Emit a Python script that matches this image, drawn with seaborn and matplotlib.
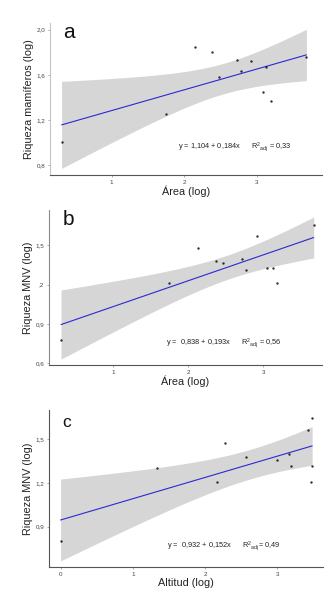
import matplotlib
matplotlib.use("Agg")
import matplotlib.pyplot as plt
import seaborn as sns
import numpy as np
import pandas as pd

# Panel a: Área (log) vs Riqueza mamíferos (log)
area_a = [0.31, 1.75, 2.145, 2.38, 2.48, 2.73, 2.78, 2.92, 3.09, 3.13, 3.19, 3.685]
riq_a = [1.00, 1.256, 1.846, 1.804, 1.582, 1.733, 1.633, 1.724, 1.443, 1.665, 1.366, 1.76]

# Panel b: Área (log) vs Riqueza MNV (log)
area_b = [0.31, 1.74, 2.13, 2.37, 2.47, 2.71, 2.77, 2.91, 3.05, 3.13, 3.18, 3.67]
riq_b = [0.776, 1.215, 1.48, 1.381, 1.368, 1.399, 1.31, 1.572, 1.33, 1.33, 1.213, 1.658]

# Panel c: Altitud (log) vs Riqueza MNV (log)
alt_c = [0.0, 1.33, 2.17, 2.28, 2.56, 2.99, 3.16, 3.19, 3.42, 3.48, 3.48, 3.46]
riq_c = [0.80, 1.30, 1.204, 1.471, 1.375, 1.358, 1.40, 1.318, 1.56, 1.645, 1.318, 1.204]

# Reported fit statistics (from the equations printed on the chart)
slopes = [0.184, 0.193, 0.152]
r2_adj = [0.33, 0.56, 0.49]

letters = ["a", "b", "c"]
xlabels = ["Área (log)", "Área (log)", "Altitud (log)"]
ylabels = ["Riqueza mamíferos (log)", "Riqueza MNV (log)", "Riqueza MNV (log)"]
eqs = ["y = 1,104 + 0,184x      R$^2$$_{adj}$ = 0,33",
       "y =  0,838 + 0,193x      R$^2$$_{adj}$ = 0,56",
       "y =  0,932 + 0,152x      R$^2$$_{adj}$= 0,49"]
yticks = [[0.8, 1.2, 1.6, 2.0], [0.6, 0.9, 1.2, 1.5], [0.9, 1.2, 1.5]]
yticklabels = [["0,8", "1,2", "1,6", "2,0"], ["0,6", "0,9", ",2", "1,5"], ["0,9", "1,2", "1,5"]]
xticks = [[1, 2, 3], [1, 2, 3], [0, 1, 2, 3]]
xticklabels = [["1", "2", "3"], ["1", "2", "3"], ["0", "1", "2", "3"]]

sns.set_style("white")
plt.rcParams['font.family'] = ['Liberation Sans', 'DejaVu Sans']
plt.rcParams['mathtext.fontset'] = 'custom'
plt.rcParams['mathtext.rm'] = 'Liberation Sans'
plt.rcParams['mathtext.it'] = 'Liberation Sans'

fig = plt.figure(figsize=(3.35, 5.95), dpi=100)
positions = [
    [50/335, 1-175/595, 272/335, 152/595],
    [49/335, 1-365/595, 273/335, 155/595],
    [49/335, 1-567/595, 274/335, 157/595],
]
xlims = [(0.15, 3.9), (0.15, 3.78), (-0.16, 3.63)]
ylims = [(0.71, 2.06), (0.587, 1.77), (0.624, 1.70)]
eq_pos = [(0.47, 0.18), (0.43, 0.14), (0.43, 0.13)]
left_spine_colors = ["#c4c4c4", "#8a8a8a", "#555555"]
letter_sizes = [15, 15, 12.5]
letter_pos = [(0.05, 1.0), (0.05, 1.0), (0.05, 0.97)]
datasets = [(area_a, riq_a), (area_b, riq_b), (alt_c, riq_c)]

T95 = 2.228  # t quantile, 10 df

for i, (xv, yv) in enumerate(datasets):
    ax = fig.add_axes(positions[i])
    df = pd.DataFrame({"x": xv, "y": yv})
    x = np.asarray(xv); y = np.asarray(yv)
    n = len(x)
    b1, b0 = np.polyfit(x, y, 1)
    sxx = np.sum((x - x.mean()) ** 2)
    # residual SE implied by the reported slope and adjusted R^2
    r2 = 1 - (1 - r2_adj[i]) * (n - 2) / (n - 1)
    ssr = slopes[i] ** 2 * sxx
    sse = ssr / r2 - ssr
    s = np.sqrt(sse / (n - 2))
    grid = np.linspace(x.min(), x.max(), 200)
    se = s * np.sqrt(1 / n + (grid - x.mean()) ** 2 / sxx)
    fit = b0 + b1 * grid
    ax.fill_between(grid, fit - T95 * se, fit + T95 * se, color="#d6d6d6",
                    linewidth=0, zorder=0)
    sns.regplot(data=df, x="x", y="y", ax=ax, ci=None, truncate=True,
                scatter_kws=dict(color="black", s=3, linewidths=0, zorder=3),
                line_kws=dict(color="#2a2ad0", lw=0.8, zorder=2))
    ax.set_xlim(*xlims[i])
    ax.set_ylim(*ylims[i])
    ax.set_xticks(xticks[i])
    ax.set_xticklabels(xticklabels[i])
    ax.set_yticks(yticks[i])
    ax.set_yticklabels(yticklabels[i])
    ax.tick_params(axis="both", labelsize=4.5, labelcolor="#444444", length=1.5,
                   width=0.5, color="#888888", pad=2, left=True, bottom=True)
    for sp in ["top", "right"]:
        ax.spines[sp].set_visible(False)
    ax.spines["left"].set_color(left_spine_colors[i])
    ax.spines["left"].set_linewidth(0.8)
    ax.spines["bottom"].set_color("#555555")
    ax.spines["bottom"].set_linewidth(0.8)
    ax.set_xlabel(xlabels[i], fontsize=7.8, color="#222222", labelpad=0.5)
    ax.set_ylabel(ylabels[i], fontsize=7.8, color="#222222", labelpad=1.5)
    ax.text(letter_pos[i][0], letter_pos[i][1], letters[i], transform=ax.transAxes,
            fontsize=letter_sizes[i], va="top", ha="left", color="#111111")
    ax.text(eq_pos[i][0], eq_pos[i][1], eqs[i], transform=ax.transAxes,
            fontsize=5.3, color="#222222", va="center", ha="left")

fig.savefig("out.png", dpi=100)
